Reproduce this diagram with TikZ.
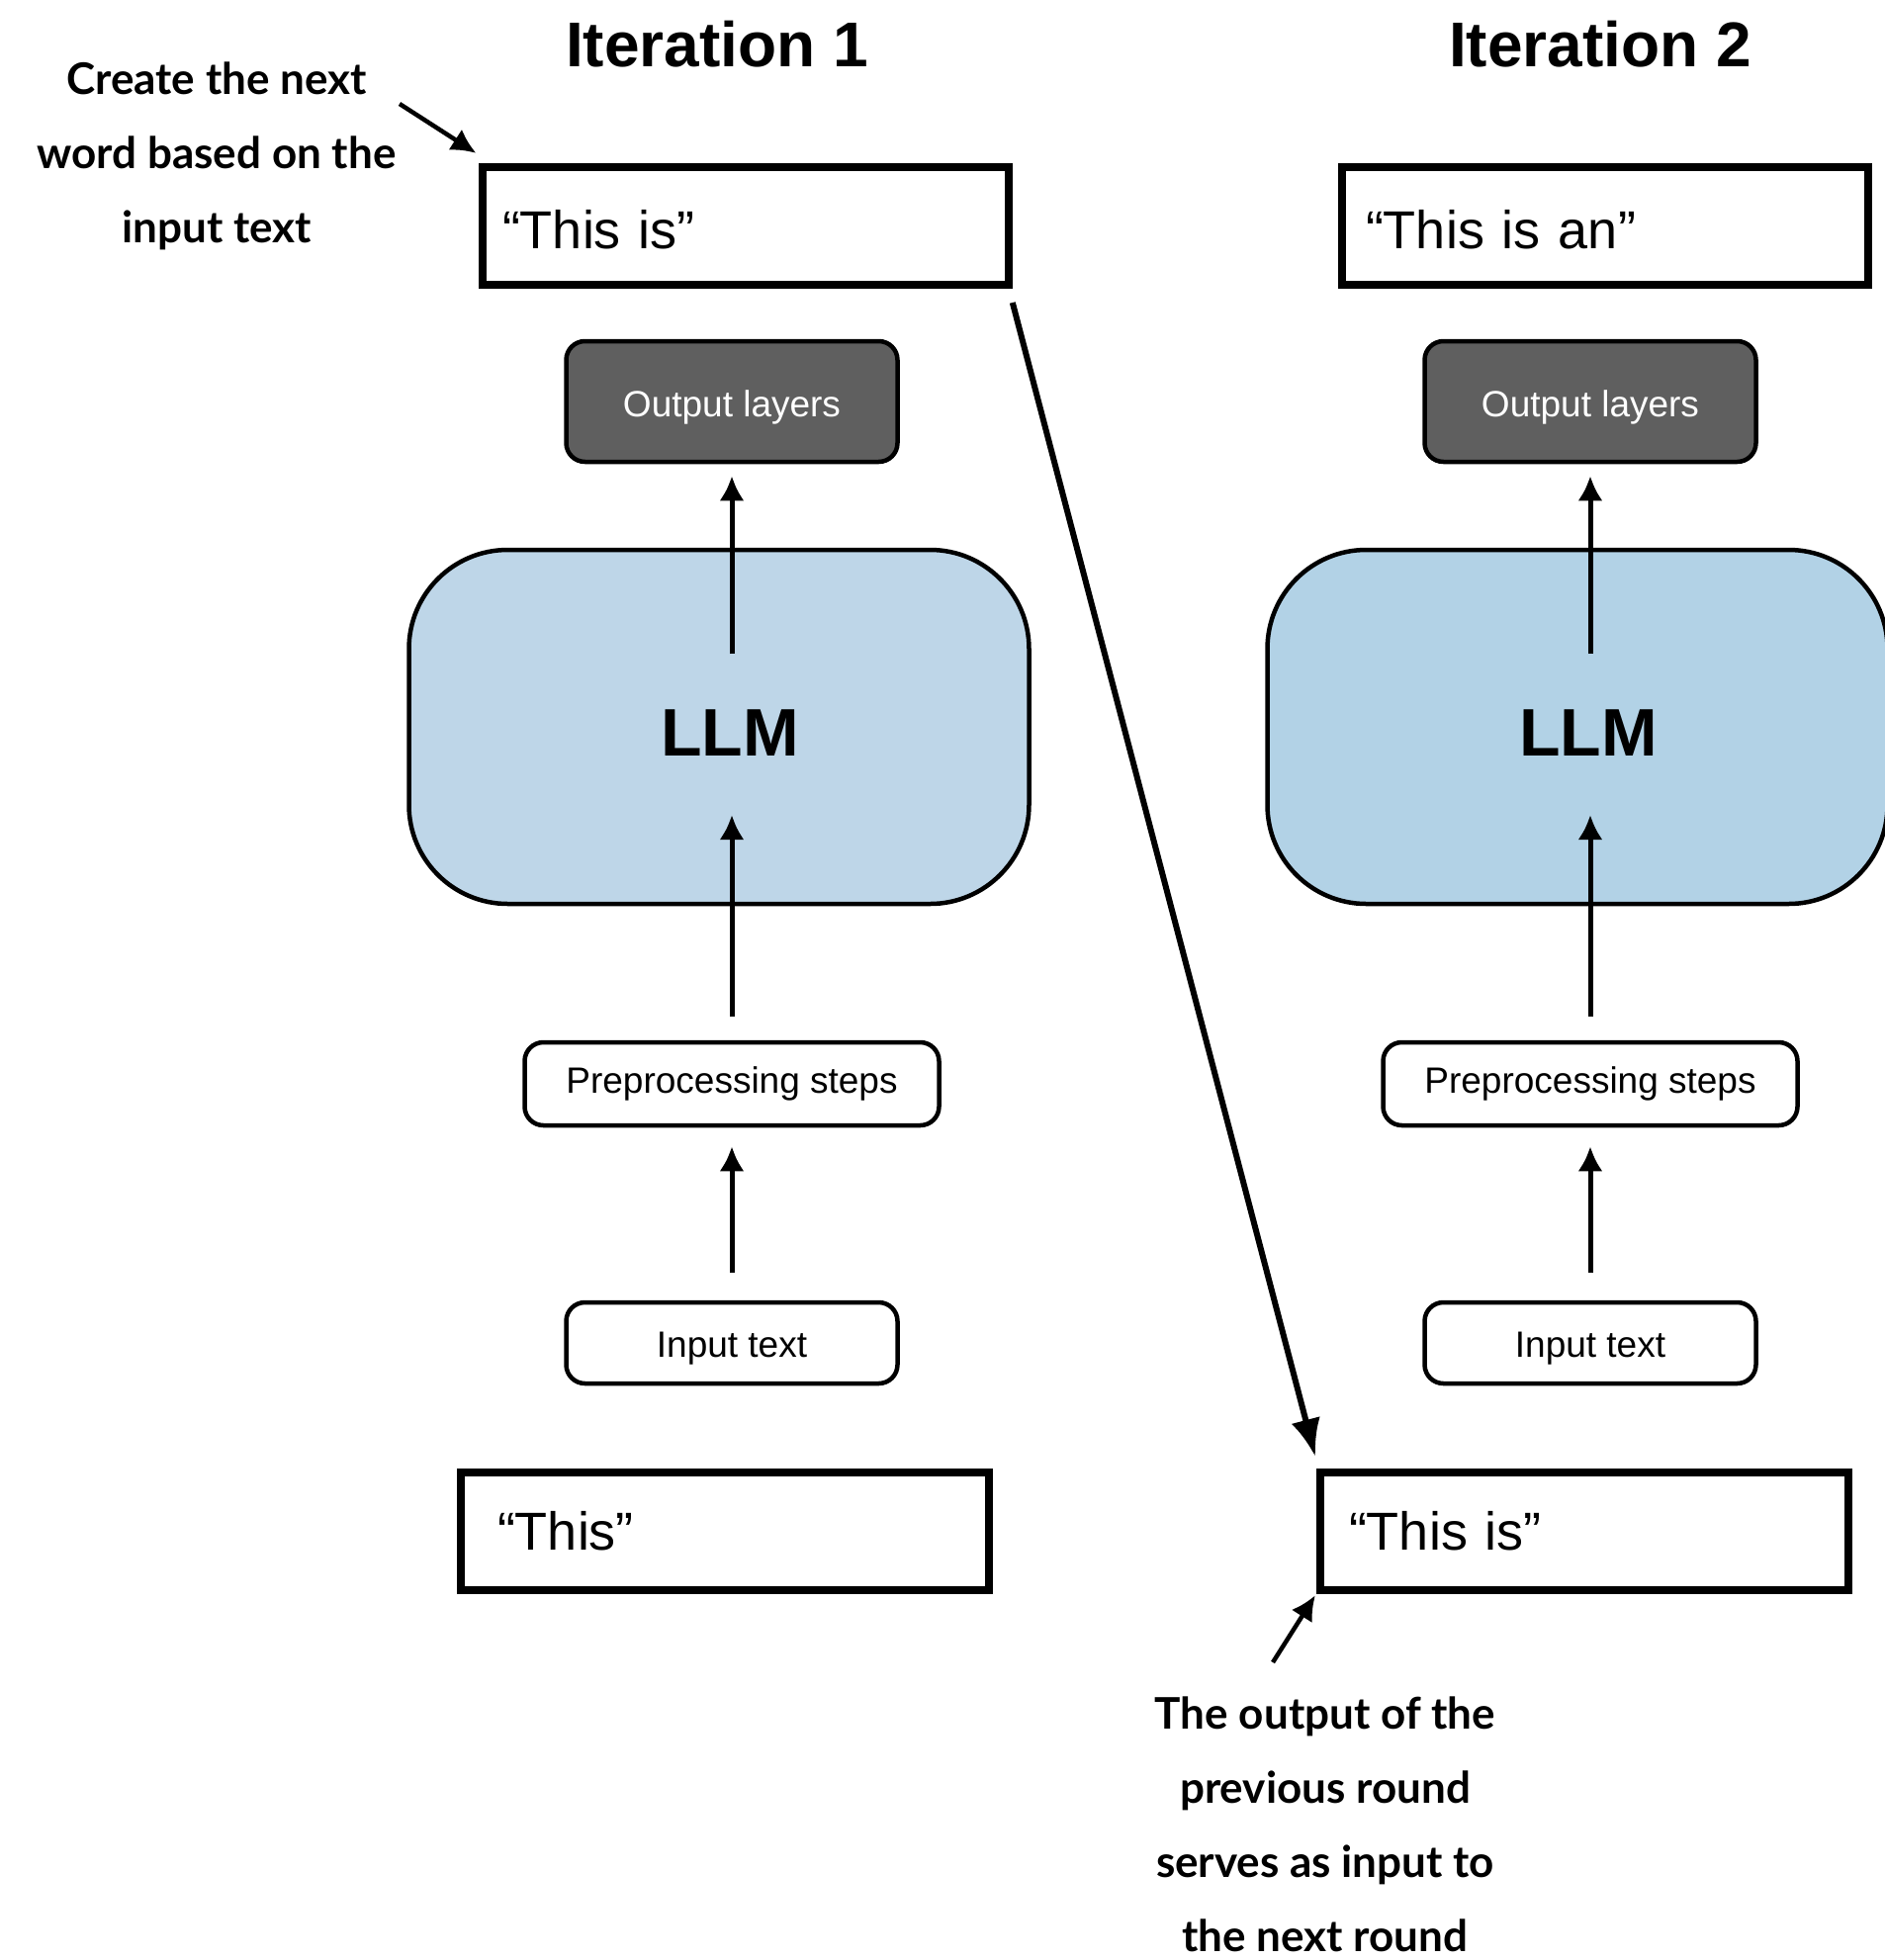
\documentclass[tikz,border=0pt]{standalone}
\usepackage{fontspec}
\setmainfont{Liberation Sans}
\newfontfamily\notefont{Lato}
\usepackage{tikz}
\usetikzlibrary{arrows.meta,positioning,shapes}

\definecolor{outgray}{HTML}{5F5F5F}
\definecolor{llmblue}{HTML}{BED6E8}
\definecolor{llmbluetwo}{HTML}{B2D2E6}

\begin{document}
\begin{tikzpicture}[x=1pt,y=-1pt,
            txtbox/.style={draw,line width=8pt,rectangle,text width=492pt,minimum height=119pt,inner xsep=20pt,align=left,font=\fontsize{54}{60}\selectfont},
            block/.style={draw,line width=4.5pt,rounded corners=19pt,minimum height=82pt,align=center,font=\fontsize{37}{44}\selectfont},
            outbox/.style={block,fill=outgray,text=white,minimum width=335pt,minimum height=122pt},
            llm/.style={block,rounded corners=100pt,minimum width=627pt,minimum height=358pt},
            llmtext/.style={font=\fontsize{68}{70}\selectfont\bfseries,xshift=11pt,yshift=-6pt},
            title/.style={font=\fontsize{64}{70}\selectfont\bfseries},
            note/.style={align=center,font=\notefont\fontsize{44}{75}\selectfont\bfseries},
            arr/.style={draw,-{Latex[length=25pt,width=25pt]},line width=5pt},
            bigarr/.style={draw,-{Latex[length=38pt,width=30pt]},line width=6pt},
            node distance=868pt
          ]
          \useasboundingbox (0,0) rectangle (1906,1982);

          %iteration 1
          \node[title] (it1) at (725,45) {Iteration 1};
          \node[txtbox,text height=48pt] (top1) at (754,228) {“This is”};
          \node[outbox,text height=38pt] (out1) at (740,406) {Output layers};
          \node[llm,fill=llmblue,label={[llmtext]center:LLM}] (llm1) at (727,735) {};
          \node[block,minimum width=419pt,minimum height=84pt] (pre1) at (740,1096) {Preprocessing steps};
          \node[block,minimum width=335pt,text height=37pt] (in1) at (740,1358) {Input text};
          \node[txtbox,inner xsep=37pt,text width=460pt] (bot1) at (733,1548) {“This”};

          %iteration 2
          \node[title,right of=it1,node distance=893pt] (it2) {Iteration 2};
          \node[txtbox,text height=48pt,inner xsep=24pt,text width=484pt,right of=top1,node distance=869pt] (top2) {“This is an”};
          \node[outbox,text height=38pt,right of=out1] (out2) {Output layers};
          \node[llm,fill=llmbluetwo,label={[llmtext]center:LLM},right of=llm1] (llm2) {};
          \node[block,minimum width=419pt,minimum height=84pt,right of=pre1] (pre2) {Preprocessing steps};
          \node[block,minimum width=335pt,text height=37pt,right of=in1] (in2) {Input text};
          \node[txtbox,inner xsep=29pt,text width=476pt,right of=bot1,node distance=869pt] (bot2) {“This is”};

          %flow
          \foreach \col in {1,2}{
            \draw[arr,shorten <=28pt,shorten >=19pt] (in\col) -- (pre\col);
            \draw[arr,shorten <=24pt,shorten >=89pt] (pre\col) -- (pre\col |- llm\col.center);
            \draw[arr,shorten <=74pt,shorten >=12pt] (out\col |- llm\col.center) -- (out\col);
          }
          \draw[bigarr,shorten <=15pt,shorten >=12pt] ([xshift=-4pt]top1.south east) -- ([xshift=2pt]bot2.north west);

          %notes
          \node[note] (note1) at (219,158) {Create the next\\word based on the\\input text};
          \node[note] (note2) at (1340,1845) {The output of the\\previous round\\serves as input to\\the next round};
          \coordinate (n1) at (404,105);
          \coordinate (n2) at (1287,1681);
          \draw[arr,line width=4.5pt,shorten >=3pt] (n1) -- ([yshift=8pt]top1.north west);
          \draw[arr,line width=4.5pt,shorten >=2pt] (n2) -- (bot2.south west);

      \end{tikzpicture}
\end{document}
